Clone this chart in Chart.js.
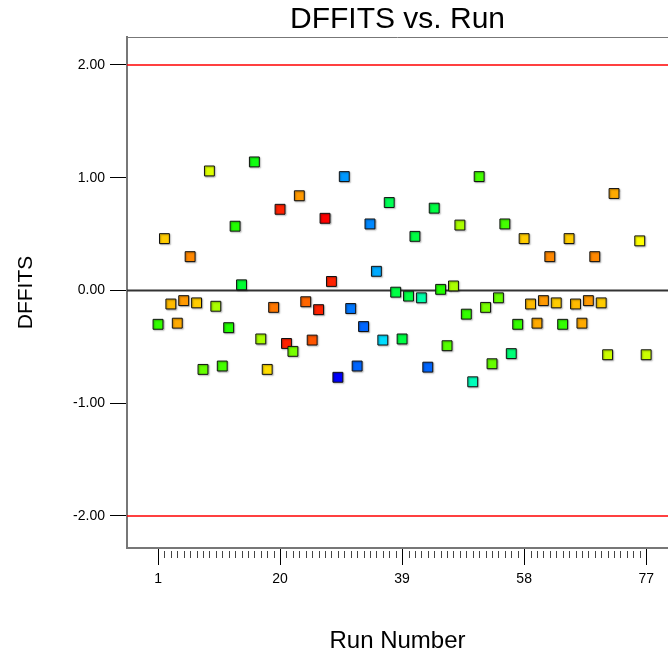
<!DOCTYPE html>
<html><head><meta charset="utf-8">
<script src="https://cdn.jsdelivr.net/npm/chart.js@4.4.1/dist/chart.umd.min.js"></script>
<style>html,body{margin:0;padding:0;background:#fff;overflow:hidden}</style>
</head><body>
<canvas id="c" width="668" height="657"></canvas>
<script>
// ---- data ----
const runs = [1,2,3,4,5,6,7,8,9,10,11,12,13,14,15,16,17,18,19,20,
  21,22,23,24,25,26,27,28,29,30,31,32,33,34,35,36,37,38,39,40,
  41,42,43,44,45,46,47,48,49,50,51,52,53,54,55,56,57,58,59,60,
  61,62,63,64,65,66,67,68,69,70,71,72,73,74,75,76,77];
const dffits = [
  -0.30, 0.46, -0.12, -0.29, -0.09, 0.30, -0.11, -0.70, 1.06, -0.14,
  -0.67, -0.33, 0.57, 0.05, null, 1.14, -0.43, -0.70, -0.15, 0.72,
  -0.47, -0.54, 0.84, -0.10, -0.44, -0.17, 0.64, 0.08, -0.77, 1.01,
  -0.16, -0.67, -0.32, 0.59, 0.17, -0.44, 0.78, -0.015, -0.43, -0.05,
  0.48, -0.065, -0.68, 0.73, 0.01, -0.49, 0.04, 0.58, -0.21, -0.81,
  1.01, -0.15, -0.65, -0.065, 0.59, -0.56, -0.30, 0.46, -0.12, -0.29,
  -0.09, 0.30, -0.11, -0.30, 0.46, -0.12, -0.29, -0.09, 0.30, -0.11,
  -0.57, 0.86, null, null, null, 0.44, -0.57];
const pointColors = [
  '#33ff00','#ffcc00','#ffbb00','#ffaa00','#ff9900','#ff8800','#ffcc00','#66ff00','#ddff00','#aaff00',
  '#44ff00','#22ff00','#22ff00','#00ff33','#00ff33','#11ff11','#aaff00','#ffdd00','#ff7700','#ff2200',
  '#ff2200','#77ff00','#ff9900','#ff6600','#ff5500','#ff2200','#ff0000','#ff2200','#0000ff','#0099ff',
  '#0077ff','#0066ff','#0066ff','#0088ff','#00aaff','#00ddff','#00ff55','#00ff44','#00ff44','#00ff44',
  '#00ff44','#00ffaa','#0066ff','#00ff44','#22ff00','#55ff00','#aaff00','#aaff00','#33ff00','#00ffbb',
  '#44ff00','#77ff00','#66ff00','#66ff00','#44ff00','#00ff77','#33ff00','#ffcc00','#ffbb00','#ffaa00',
  '#ff9900','#ff8800','#ffcc00','#33ff00','#ffcc00','#ffbb00','#ffaa00','#ff9900','#ff8800','#ffcc00',
  '#ccff00','#ffaa00','#ffaa00','#ffaa00','#ffaa00','#ffff00','#ccff00'];
const xMajorTicks = [1, 20, 39, 58, 77];
const yTicks = [-2, -1, 0, 1, 2];
const limitLines = [2, -2];
const centerLine = 0;
const xRange = [-3.83, 80.4];
const yRange = [-2.284, 2.248];

const points = runs.map((r, i) => ({x: r, y: dffits[i]}));
const FONT = "'Liberation Sans', Arial, sans-serif";

const decorPlugin = {
  id: 'decor',
  beforeDatasetsDraw(chart) {
    const {ctx, chartArea: a, scales: {x, y}} = chart;
    ctx.save();
    // top frame line
    ctx.strokeStyle = '#777'; ctx.lineWidth = 1;
    ctx.beginPath(); ctx.moveTo(a.left, a.top + 0.5); ctx.lineTo(a.right, a.top + 0.5); ctx.stroke();
    // limit lines
    ctx.strokeStyle = '#ff0000'; ctx.lineWidth = 1.5;
    limitLines.forEach(v => {
      const py = y.getPixelForValue(v);
      ctx.beginPath(); ctx.moveTo(a.left, py); ctx.lineTo(a.right, py); ctx.stroke();
    });
    // zero line
    ctx.strokeStyle = '#333'; ctx.lineWidth = 2;
    const p0 = y.getPixelForValue(centerLine);
    ctx.beginPath(); ctx.moveTo(a.left, p0); ctx.lineTo(a.right, p0); ctx.stroke();
    // minor x ticks
    ctx.strokeStyle = '#444'; ctx.lineWidth = 1;
    runs.forEach(r => {
      if (xMajorTicks.includes(r)) return;
      const px = Math.round(x.getPixelForValue(r)) + 0.5;
      ctx.beginPath(); ctx.moveTo(px, a.bottom + 3); ctx.lineTo(px, a.bottom + 10); ctx.stroke();
    });
    ctx.restore();
    // shadow for markers
    ctx.save();
    ctx.shadowColor = 'rgba(0,0,0,0.35)';
    ctx.shadowOffsetX = 1; ctx.shadowOffsetY = 1; ctx.shadowBlur = 1.5;
  },
  afterDatasetsDraw(chart) { chart.ctx.restore(); }
};

new Chart(document.getElementById('c'), {
  type: 'scatter',
  data: {
    datasets: [{
      data: points,
      pointStyle: 'rect',
      pointRadius: 7,
      pointHoverRadius: 7,
      pointBackgroundColor: pointColors,
      pointBorderColor: '#111',
      pointBorderWidth: 1
    }]
  },
  options: {
    responsive: false,
    animation: false,
    events: [],
    layout: {padding: 0, autoPadding: false},
    plugins: {
      legend: {display: false},
      tooltip: {enabled: false},
      title: {
        display: true, text: 'DFFITS vs. Run', fullSize: false,
        color: '#000', font: {family: FONT, size: 30, weight: 'normal'},
        padding: {top: 2, bottom: -1}
      }
    },
    scales: {
      x: {
        type: 'linear', min: xRange[0], max: xRange[1],
        afterBuildTicks: s => { s.ticks = xMajorTicks.map(v => ({value: v})); },
        afterFit: s => { s.height = 109; s.paddingLeft = 0; s.paddingRight = 0; },
        grid: {drawOnChartArea: false, drawTicks: true, tickLength: 17, tickColor: '#000', tickWidth: 1},
        border: {display: true, color: '#777', width: 2},
        ticks: {color: '#000', font: {family: FONT, size: 14}, padding: 6, autoSkip: false, maxRotation: 0,
          callback: v => String(v)},
        title: {display: true, text: 'Run Number', color: '#000', font: {family: FONT, size: 24},
          padding: {top: 0, bottom: 1}}
      },
      y: {
        type: 'linear', min: yRange[0], max: yRange[1],
        afterBuildTicks: s => { s.ticks = yTicks.map(v => ({value: v})); },
        afterFit: s => { s.width = 127; s.paddingTop = 0; s.paddingBottom = 0; },
        grid: {drawOnChartArea: false, drawTicks: true, tickLength: 17, tickColor: '#000', tickWidth: 1},
        border: {display: true, color: '#777', width: 2},
        ticks: {color: '#000', font: {family: FONT, size: 14}, padding: 5,
          callback: v => Number(v).toFixed(2)},
        title: {display: true, text: 'DFFITS', color: '#000', font: {family: FONT, size: 21},
          padding: {top: 14, bottom: 0}}
      }
    }
  },
  plugins: [decorPlugin]
});
</script>
</body></html>
